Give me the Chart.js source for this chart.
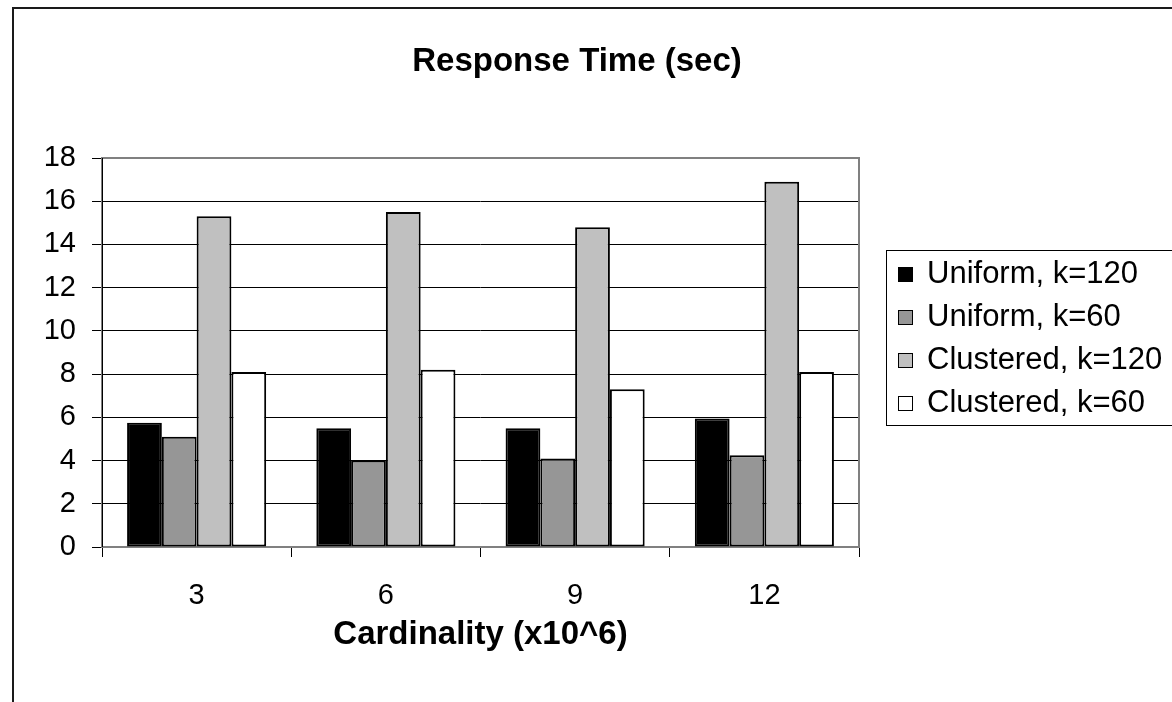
<!DOCTYPE html>
<html>
<head>
<meta charset="utf-8">
<script src="https://cdn.jsdelivr.net/npm/chart.js@4.4.1/dist/chart.umd.min.js"></script>
<style>
  html, body { margin: 0; padding: 0; background: #fff; }
  #wrap { width: 1172px; height: 702px; }
</style>
</head>
<body>
<div id="wrap"><canvas id="responseChart" width="1172" height="702"></canvas></div>
<script>
// Data
const chartTitle = 'Response Time (sec)';
const xAxisTitle = 'Cardinality (x10^6)';
const categories = ['3', '6', '9', '12'];
const seriesNames = ['Uniform, k=120', 'Uniform, k=60', 'Clustered, k=120', 'Clustered, k=60'];
const uniform120 = [5.75, 5.5, 5.5, 5.95];
const uniform60 = [5.1, 4.0, 4.1, 4.25];
const clustered120 = [15.3, 15.5, 14.8, 16.9];
const clustered60 = [8.1, 8.2, 7.3, 8.1];
const yTicks = [0, 2, 4, 6, 8, 10, 12, 14, 16, 18];

const fills = ['#000000', '#969696', '#c0c0c0', '#ffffff'];
const font = '"Liberation Sans", Arial, sans-serif';

// frame, plot border, title and boxed legend (Excel look)
const excelLook = {
    id: 'excelLook',
    beforeDraw(chart) {
        let ctx = chart.ctx;
        ctx.save();
        ctx.fillStyle = '#fff';
        ctx.fillRect(0, 0, chart.width, chart.height);
        ctx.strokeStyle = '#1a1a1a';
        ctx.lineWidth = 2;
        ctx.beginPath();
        ctx.moveTo(13, chart.height + 2);
        ctx.lineTo(13, 8);
        ctx.lineTo(chart.width + 2, 8);
        ctx.stroke();
        ctx.restore();
    },
    beforeDatasetsDraw(chart) {
        let ctx = chart.ctx;
        let a = chart.chartArea;
        ctx.save();
        ctx.strokeStyle = '#808080';
        ctx.lineWidth = 2;
        ctx.strokeRect(a.left, a.top, a.right - a.left, a.bottom - a.top);
        ctx.strokeStyle = '#000';
        ctx.lineWidth = 1;
        ctx.beginPath();
        ctx.moveTo(a.left + 0.5, a.top);
        ctx.lineTo(a.left + 0.5, a.bottom);
        ctx.stroke();
        ctx.restore();
    },
    afterDraw(chart) {
        let ctx = chart.ctx;
        ctx.save();
        // title
        ctx.fillStyle = '#000';
        ctx.font = 'bold 33px ' + font;
        ctx.textAlign = 'center';
        ctx.textBaseline = 'middle';
        ctx.fillText(chartTitle, 577, 62);
        // legend
        ctx.strokeStyle = '#000';
        ctx.lineWidth = 1;
        ctx.strokeRect(886.5, 250.5, 320, 175);
        ctx.font = '31px ' + font;
        ctx.textAlign = 'left';
        chart.data.datasets.forEach((ds, i) => {
            let cy = 274 + i * 43;
            ctx.fillStyle = ds.backgroundColor;
            ctx.fillRect(898, cy - 7, 15, 15);
            ctx.strokeRect(898.5, cy - 6.5, 14, 14);
            ctx.fillStyle = '#000';
            ctx.fillText(ds.label, 927, cy);
        });
        ctx.restore();
    }
};

let datasets = [uniform120, uniform60, clustered120, clustered60].map((values, i) => ({
    label: seriesNames[i],
    data: values,
    backgroundColor: fills[i],
    borderColor: '#000',
    borderWidth: 2,
    borderSkipped: false,
    categoryPercentage: 0.735,
    barPercentage: 1.0
}));

new Chart(document.getElementById('responseChart'), {
    type: 'bar',
    data: { labels: categories, datasets: datasets },
    plugins: [excelLook],
    options: {
        responsive: false,
        animation: false,
        devicePixelRatio: 1,
        layout: { padding: { left: 12, right: 313, top: 158, bottom: 0 } },
        plugins: {
            legend: { display: false },
            title: { display: false },
            tooltip: { enabled: false }
        },
        scales: {
            x: {
                offset: true,
                grid: { offset: true, drawOnChartArea: false, drawTicks: true, tickLength: 10, color: '#000', lineWidth: 1 },
                border: { display: false },
                ticks: { color: '#000', padding: 22, font: { family: font, size: 29 } },
                title: {
                    display: true,
                    text: xAxisTitle,
                    color: '#000',
                    font: { family: font, size: 33, weight: 'bold' },
                    padding: { top: 0, bottom: 47 }
                },
                afterFit(scale) { scale.height = 155; }
            },
            y: {
                min: 0,
                max: 18,
                afterBuildTicks(scale) { scale.ticks = yTicks.map(v => ({ value: v })); },
                grid: { color: '#000', lineWidth: 1, tickLength: 10 },
                border: { display: false },
                ticks: { color: '#000', padding: 16, font: { family: font, size: 29 } },
                afterFit(scale) { scale.width = 90; }
            }
        }
    }
});
</script>
</body>
</html>
